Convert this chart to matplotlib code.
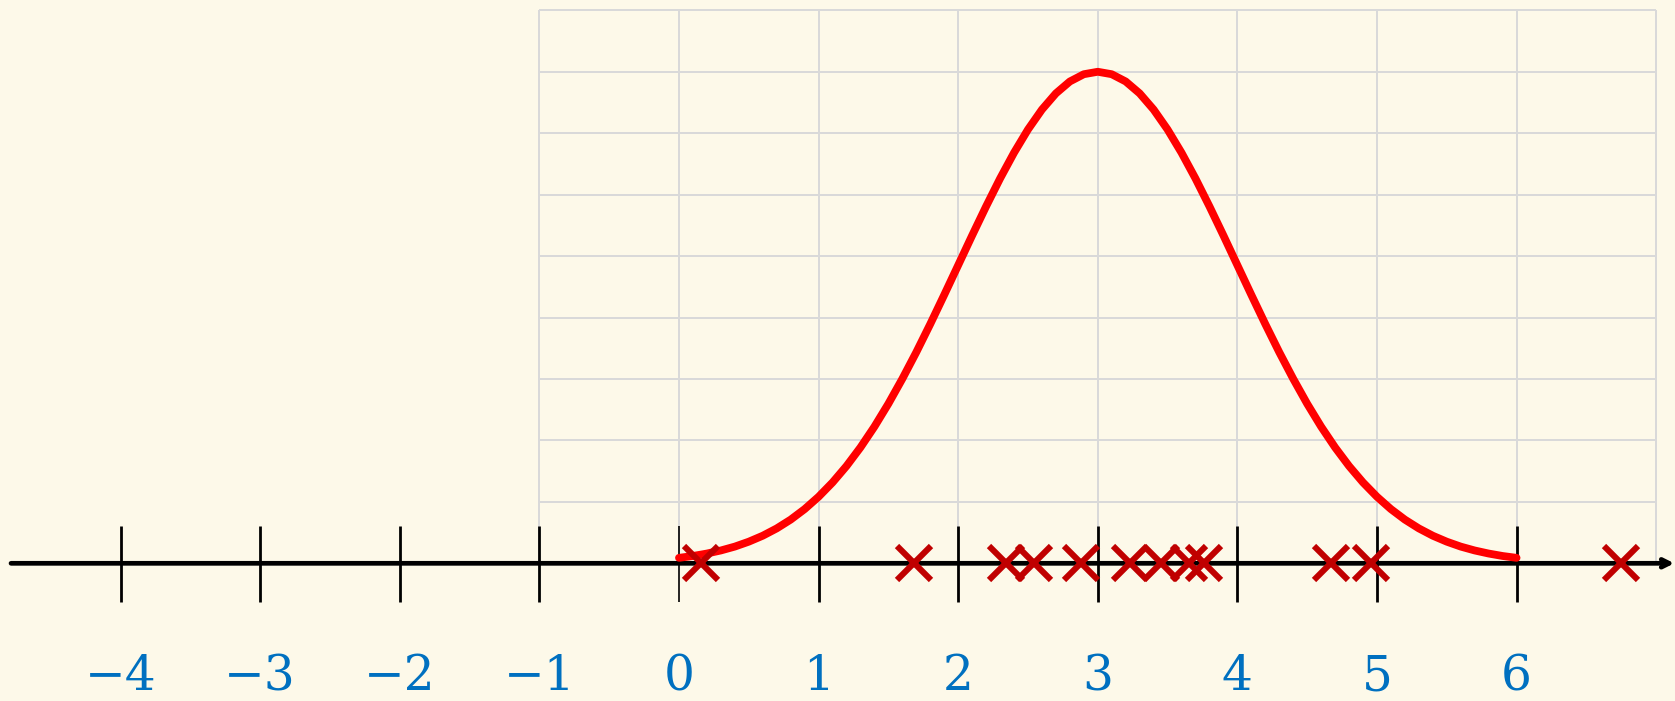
import matplotlib
matplotlib.use("Agg")
import matplotlib.pyplot as plt

# ---- data ----
tick_values = [-4, -3, -2, -1, 0, 1, 2, 3, 4, 5, 6]
tick_labels = ["\u22124", "\u22123", "\u22122", "\u22121", "0", "1", "2", "3", "4", "5", "6"]

curve_x = [round(0.1 * i, 1) for i in range(61)]
curve_y = [0.089, 0.119, 0.159, 0.209, 0.272, 0.352, 0.449, 0.568, 0.711, 0.882,
           1.083, 1.316, 1.583, 1.886, 2.224, 2.597, 3.003, 3.436, 3.894, 4.369,
           4.852, 5.336, 5.809, 6.262, 6.682, 7.060, 7.385, 7.648, 7.842, 7.960,
           8.000,
           7.960, 7.842, 7.648, 7.385, 7.060, 6.682, 6.262, 5.809, 5.336, 4.852,
           4.369, 3.894, 3.436, 3.003, 2.597, 2.224, 1.886, 1.583, 1.316, 1.083,
           0.882, 0.711, 0.568, 0.449, 0.352, 0.272, 0.209, 0.159, 0.119, 0.089]

sample_x = [0.16, 1.68, 2.34, 2.54, 2.88, 3.23, 3.45, 3.65, 3.76, 4.67, 4.96, 6.75]

grid_x = [-1, 0, 1, 2, 3, 4, 5, 6, 7]
grid_y = [1, 2, 3, 4, 5, 6, 7, 8, 9]

# ---- styles ----
BG = "#fdf9e9"
GRID = "#d9d9d9"
LABEL_BLUE = "#0070c0"
CURVE_RED = "#ff0000"
MARK_RED = "#c00000"

fig = plt.figure(figsize=(16.75, 7.01), dpi=100)
fig.patch.set_facecolor(BG)
ax = fig.add_axes([0, 0, 1, 1])
ax.set_facecolor(BG)
ax.set_xlim(-4.864, 7.135)
ax.set_ylim(-2.241, 9.168)
ax.axis("off")

# grid
ax.vlines(grid_x, 0, max(grid_y), colors=GRID, linewidth=1.4, zorder=1)
ax.hlines(grid_y, min(grid_x), max(grid_x), colors=GRID, linewidth=1.4, zorder=1)

# number line with arrow
ax.annotate("", xy=(7.13, 0), xytext=(-4.785, 0),
            arrowprops=dict(arrowstyle="->", lw=3.4, color="black",
                            mutation_scale=14, shrinkA=0, shrinkB=0),
            zorder=3)

# ticks
for v in tick_values:
    lw = 1.2 if v == 0 else 2.0
    ax.vlines(v, -0.625, 0.607, colors="black", linewidth=lw, zorder=3)

# tick labels
for v, lab in zip(tick_values, tick_labels):
    ax.text(v, -2.07, lab, ha="center", va="baseline", color=LABEL_BLUE,
            fontsize=35, family=["DejaVu Serif"], zorder=4)

# curve
ax.plot(curve_x, curve_y, color=CURVE_RED, linewidth=5.6, solid_capstyle="round",
        solid_joinstyle="round", zorder=4)

# sample markers
ax.plot(sample_x, [0] * len(sample_x), linestyle="none", marker="x",
        markersize=25, markeredgewidth=4.4, color=MARK_RED, zorder=5)

fig.savefig("out.png", dpi=100, facecolor=BG)
